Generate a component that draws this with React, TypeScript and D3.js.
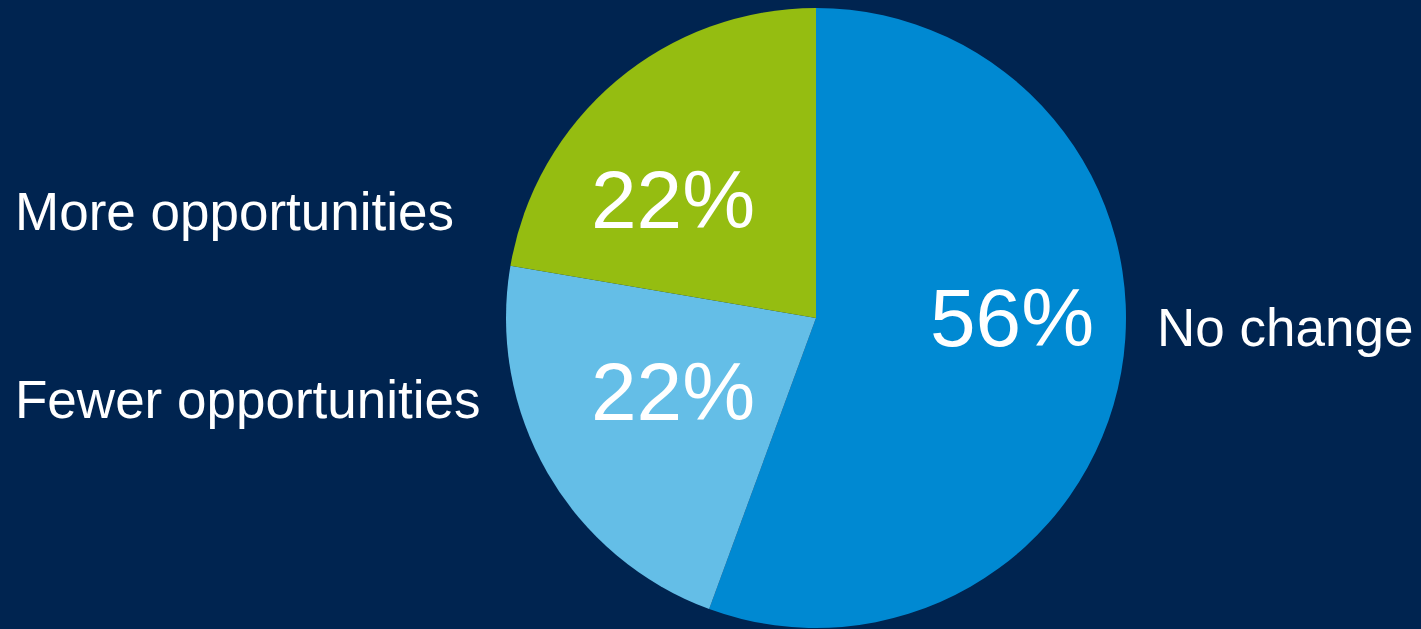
import React from "react";
import * as d3 from "d3";

const categories = ["No change", "Fewer opportunities", "More opportunities"];
const values = [55.6, 22.1, 22.3];
const colors = ["#0089D2", "#64BEE7", "#95BD11"];

const W = 1421;
const H = 629;
const BG = "#002450";
const cx = 816;
const cy = 318;
const R = 310;

// label layout (offset from pie centre), per category
const innerLabelPos: Record<string, [number, number]> = {
  "No change": [196, 28],
  "Fewer opportunities": [-143, 102],
  "More opportunities": [-143, -90],
};
const outerLabelPos: Record<string, { x: number; y: number; anchor: string }> = {
  "No change": { x: 1157, y: 346, anchor: "start" },
  "Fewer opportunities": { x: 15, y: 418, anchor: "start" },
  "More opportunities": { x: 15, y: 230, anchor: "start" },
};

export default function App() {
  const data = categories.map((c, i) => ({ name: c, value: values[i], color: colors[i] }));
  const pie = d3
    .pie<{ name: string; value: number; color: string }>()
    .value((d) => d.value)
    .sort(null)
    .startAngle(0)
    .endAngle(2 * Math.PI);
  const arcs = pie(data);
  const arc = d3
    .arc<d3.PieArcDatum<{ name: string; value: number; color: string }>>()
    .innerRadius(0)
    .outerRadius(R);
  const font = "Liberation Sans, Arial, Helvetica, sans-serif";
  return (
    <svg
      width={W}
      height={H}
      style={{ position: "absolute", left: 0, top: 0, display: "block" }}
    >
      <rect x={0} y={0} width={W} height={H} fill={BG} />
      <g transform={`translate(${cx},${cy})`}>
        {arcs.map((a) => (
          <path key={a.data.name} d={arc(a) || ""} fill={a.data.color} />
        ))}
        {arcs.map((a) => {
          const [dx, dy] = innerLabelPos[a.data.name];
          return (
            <text
              key={"p" + a.data.name}
              x={dx}
              y={dy}
              textAnchor="middle"
              fill="#ffffff"
              fontFamily={font}
              fontSize={82}
            >
              {`${Math.round(a.data.value)}%`}
            </text>
          );
        })}
      </g>
      {arcs.map((a) => {
        const p = outerLabelPos[a.data.name];
        return (
          <text
            key={"l" + a.data.name}
            x={p.x}
            y={p.y}
            textAnchor={p.anchor as any}
            fill="#ffffff"
            fontFamily={font}
            fontSize={53}
          >
            {a.data.name}
          </text>
        );
      })}
    </svg>
  );
}
